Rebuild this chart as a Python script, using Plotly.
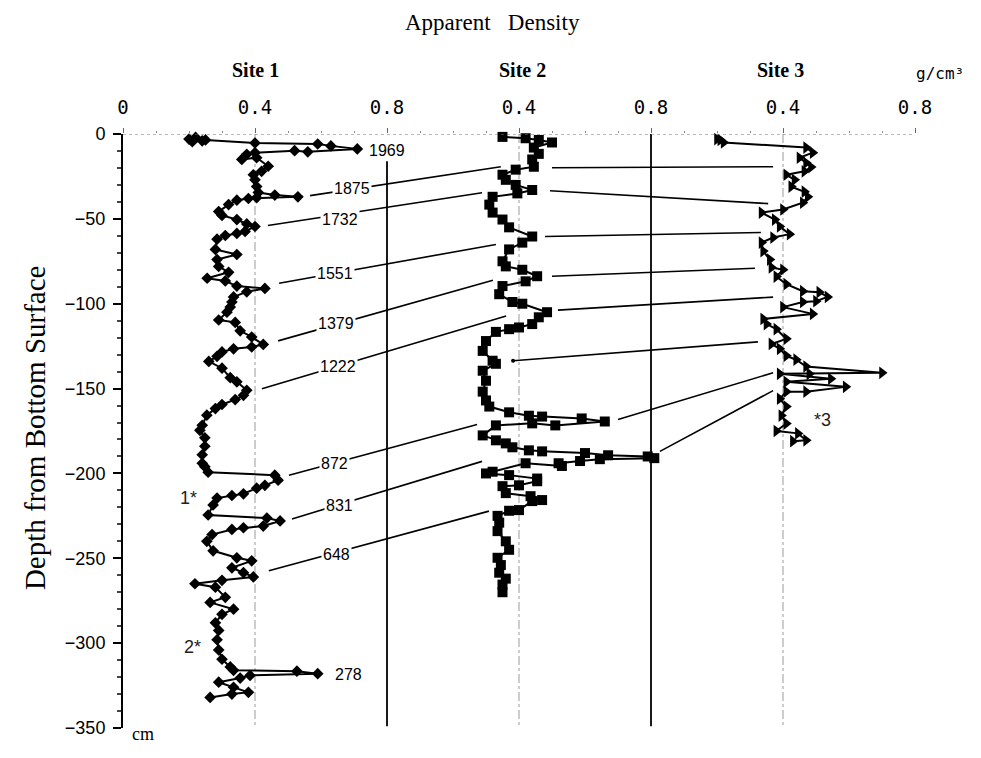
import plotly.graph_objects as go

# ---------------- data ----------------
site1_depth = [-2.0, -3.0, -4.0, -4.5, -3.5, -5.3, -5.9, -7.0, -8.8, -10.5, -9.8, -11.0, -12.0, -15.0, -14.0,
               -19.0, -22.0, -24.0, -27.0, -31.0, -34.5, -36.0, -37.0, -37.5, -38.0, -39.0, -41.6, -45.7, -48.0,
               -50.4, -53.0, -54.5, -57.4, -58.6, -59.8, -62.0, -68.0, -71.0, -74.0, -78.0, -81.5, -85.0, -86.6,
               -89.6, -91.0, -93.0, -96.0, -99.0, -102.0, -105.0, -109.6, -111.0, -116.0, -119.6, -124.0, -125.5,
               -126.6, -128.4, -131.0, -134.0, -138.0, -143.6, -146.0, -151.0, -154.0, -156.5, -159.4, -161.8,
               -165.7, -171.6, -174.6, -179.0, -184.0, -189.0, -194.0, -196.0, -199.3, -201.0, -204.0, -207.0,
               -208.7, -212.0, -213.0, -214.5, -218.6, -224.5, -226.3, -228.0, -231.0, -232.0, -233.0, -236.0,
               -240.0, -245.6, -249.7, -251.5, -255.6, -258.5, -261.0, -263.0, -265.0, -267.0, -273.0, -276.0,
               -280.0, -283.0, -288.0, -292.5, -298.0, -304.0, -309.5, -314.0, -316.0, -316.5, -318.0, -319.0,
               -320.6, -323.0, -326.0, -329.0, -330.0, -332.0]
site1_density = [0.22, 0.20, 0.24, 0.21, 0.25, 0.40, 0.59, 0.63, 0.71, 0.56, 0.52, 0.40, 0.375, 0.36, 0.405,
                 0.44, 0.42, 0.395, 0.40, 0.405, 0.41, 0.46, 0.53, 0.405, 0.38, 0.345, 0.32, 0.29, 0.30,
                 0.345, 0.375, 0.40, 0.37, 0.345, 0.31, 0.285, 0.28, 0.345, 0.285, 0.29, 0.32, 0.255, 0.31,
                 0.345, 0.43, 0.375, 0.335, 0.33, 0.325, 0.315, 0.29, 0.34, 0.355, 0.39, 0.425, 0.39,
                 0.335, 0.30, 0.285, 0.26, 0.30, 0.325, 0.345, 0.375, 0.365, 0.34, 0.30, 0.28,
                 0.254, 0.24, 0.233, 0.248, 0.248, 0.24, 0.24, 0.248, 0.258, 0.46, 0.47, 0.43,
                 0.405, 0.365, 0.33, 0.285, 0.273, 0.258, 0.436, 0.476, 0.425, 0.365, 0.33, 0.27,
                 0.254, 0.273, 0.345, 0.39, 0.33, 0.365, 0.395, 0.30, 0.218, 0.28, 0.31, 0.264,
                 0.335, 0.30, 0.28, 0.29, 0.285, 0.29, 0.30, 0.325, 0.335, 0.527, 0.59, 0.385,
                 0.355, 0.29, 0.335, 0.38, 0.33, 0.264]

site2_depth = [-1.7, -2.5, -3.5, -5.0, -8.0, -11.7, -15.0, -19.3, -21.0, -24.0, -27.0, -30.0, -33.0, -35.0,
               -37.0, -41.6, -46.3, -50.4, -55.0, -60.4, -64.0, -68.0, -75.0, -78.0, -80.0, -83.8, -86.8,
               -89.6, -94.4, -99.0, -100.0, -105.0, -108.0, -112.0, -114.0, -115.0, -116.6, -122.0, -127.8,
               -133.6, -135.4, -139.5, -145.4, -151.8, -157.0, -160.6, -164.0, -166.0, -166.5, -167.6, -169.4,
               -171.7, -170.5, -171.7, -177.6, -180.5, -182.3, -184.6, -186.4, -187.0, -188.0, -189.3, -190.0,
               -191.0, -191.6, -192.7, -194.0, -195.6, -194.0, -199.0, -200.0, -201.0, -203.0, -204.6, -207.0,
               -207.5, -211.6, -213.4, -215.7, -216.3, -221.6, -222.0, -225.0, -229.0, -234.0, -240.0, -245.0,
               -249.7, -254.0, -258.5, -262.0, -265.5, -270.0]
site2_density = [0.35, 0.42, 0.46, 0.50, 0.445, 0.46, 0.44, 0.445, 0.39, 0.35, 0.36, 0.39, 0.44, 0.395,
                 0.32, 0.31, 0.32, 0.35, 0.37, 0.44, 0.41, 0.37, 0.35, 0.36, 0.41, 0.455, 0.42,
                 0.35, 0.34, 0.38, 0.41, 0.485, 0.46, 0.44, 0.40, 0.37, 0.33, 0.30, 0.29,
                 0.32, 0.33, 0.29, 0.30, 0.29, 0.30, 0.31, 0.37, 0.43, 0.47, 0.59, 0.66,
                 0.51, 0.44, 0.33, 0.29, 0.33, 0.36, 0.38, 0.43, 0.47, 0.60, 0.67, 0.79,
                 0.81, 0.645, 0.585, 0.52, 0.53, 0.42, 0.32, 0.30, 0.37, 0.455, 0.455, 0.40,
                 0.35, 0.36, 0.435, 0.47, 0.44, 0.40, 0.37, 0.335, 0.34, 0.335, 0.36, 0.37,
                 0.335, 0.345, 0.34, 0.36, 0.35, 0.35]

site3_depth = [-3.0, -3.5, -5.0, -8.0, -11.0, -14.0, -17.0, -19.5, -22.0, -24.0, -27.0, -31.0, -34.0, -37.0,
               -40.5, -44.5, -46.3, -50.4, -54.5, -59.0, -61.0, -64.0, -69.0, -74.0, -78.6, -80.0, -84.0,
               -88.5, -92.6, -93.2, -96.0, -98.5, -99.0, -102.0, -106.0, -109.0, -112.0, -115.0, -120.7,
               -123.7, -126.6, -130.7, -133.0, -137.0, -140.7, -141.3, -141.3, -144.2, -146.0, -149.0,
               -151.8, -151.8, -156.0, -160.6, -165.9, -170.6, -175.0, -176.4, -180.5, -181.0]
site3_density = [0.20, 0.21, 0.22, 0.47, 0.49, 0.45, 0.47, 0.485, 0.465, 0.41, 0.435, 0.425, 0.465, 0.475,
                 0.46, 0.40, 0.335, 0.375, 0.39, 0.42, 0.37, 0.335, 0.34, 0.36, 0.365, 0.40, 0.38,
                 0.41, 0.46, 0.51, 0.535, 0.50, 0.46, 0.40, 0.49, 0.34, 0.35, 0.38, 0.41,
                 0.365, 0.39, 0.41, 0.44, 0.47, 0.70, 0.48, 0.39, 0.545, 0.41, 0.59,
                 0.47, 0.41, 0.39, 0.41, 0.395, 0.41, 0.38, 0.445, 0.47, 0.43]

# horizontal offset of each site's density scale on the shared axis
site_offsets = [0.0, 0.8, 1.6]
site_names = ["Site 1", "Site 2", "Site 3"]

# top axis ticks
top_tickvals = [0.0, 0.4, 0.8, 1.2, 1.6, 2.0, 2.4]
top_ticktext = ["0", "0.4", "0.8", "0.4", "0.8", "0.4", "0.8"]

# correlation lines Site 1 -> Site 2 (year labels), shared-axis coordinates
years = ["1875", "1732", "1551", "1379", "1222", "872", "831", "648"]
c12_x0 = [0.567, 0.439, 0.473, 0.470, 0.421, 0.503, 0.512, 0.442]
c12_y0 = [-36.3, -53.9, -87.9, -121.9, -150.1, -201.1, -226.8, -257.3]
c12_x1 = [1.145, 1.088, 1.130, 1.121, 1.161, 1.073, 1.088, 1.109]
c12_y1 = [-19.3, -34.6, -65.1, -86.2, -107.3, -171.2, -192.9, -222.2]
year_lx = [0.694, 0.658, 0.642, 0.645, 0.652, 0.642, 0.655, 0.648]
year_ly = [-32.2, -50.4, -82.1, -111.4, -137.2, -194.0, -218.6, -248.0]
extra_years = ["1969", "278"]
extra_lx = [0.80, 0.682]
extra_ly = [-10.0, -318.3]

# correlation lines Site 2 -> Site 3
c23_x0 = [1.300, 1.294, 1.279, 1.300, 1.318, 1.182, 1.500, 1.627]
c23_y0 = [-19.9, -33.4, -60.4, -83.8, -103.8, -133.6, -168.2, -187.0]
c23_x1 = [1.970, 1.955, 1.933, 1.915, 1.970, 1.924, 1.970, 1.970]
c23_y1 = [-19.3, -41.0, -58.0, -79.1, -96.1, -122.5, -140.7, -151.2]

# reference verticals
dash_x = [0.4, 1.2, 2.0]
solid_x = [0.8, 1.6]
solid_top = [-16.0, 0.0]

marks = ["1*", "2*", "*3"]
marks_x = [0.197, 0.212, 2.121]
marks_y = [-214.5, -302.3, -168.8]

assert len(site1_depth) == len(site1_density)
assert len(site2_depth) == len(site2_density)
assert len(site3_depth) == len(site3_density)

fig = go.Figure()

# reference lines
for xv in dash_x:
    fig.add_trace(go.Scatter(x=[xv, xv], y=[0, -350], mode="lines",
                             line=dict(color="#9a9a9a", width=1, dash="dashdot"),
                             hoverinfo="skip", showlegend=False))
for xv, yt in zip(solid_x, solid_top):
    fig.add_trace(go.Scatter(x=[xv, xv], y=[yt, -349], mode="lines",
                             line=dict(color="black", width=1.8),
                             hoverinfo="skip", showlegend=False))

# correlation lines
def seg(x0, y0, x1, y1):
    xs, ys = [], []
    for a, b, c, d in zip(x0, y0, x1, y1):
        xs += [a, c, None]
        ys += [b, d, None]
    return xs, ys

for lx, ly in (seg(c12_x0, c12_y0, c12_x1, c12_y1), seg(c23_x0, c23_y0, c23_x1, c23_y1)):
    fig.add_trace(go.Scatter(x=lx, y=ly, mode="lines", line=dict(color="black", width=1.6),
                             hoverinfo="skip", showlegend=False))
fig.add_trace(go.Scatter(x=[c23_x0[5]], y=[c23_y0[5]], mode="markers",
                         marker=dict(color="black", size=4), showlegend=False, hoverinfo="skip"))

# site profiles
symbols = ["diamond", "square", "triangle-right"]
sizes = [9, 10, 11]
for depth, dens, off, sym, sz, nm in zip(
        [site1_depth, site2_depth, site3_depth],
        [site1_density, site2_density, site3_density],
        site_offsets, symbols, sizes, site_names):
    fig.add_trace(go.Scatter(
        x=[v + off for v in dens], y=depth, mode="lines+markers", name=nm,
        line=dict(color="black", width=2),
        marker=dict(symbol=sym, size=sz, color="black", line=dict(width=0)),
        cliponaxis=False, showlegend=False))

# top dotted axis line
fig.add_shape(type="line", x0=0, x1=2.4, y0=0, y1=0, xref="x", yref="y",
              line=dict(color="#777777", width=1, dash="dot"))

annotations = []
for t, x, y in zip(years + extra_years, year_lx + extra_lx, year_ly + extra_ly):
    annotations.append(dict(x=x, y=y, xref="x", yref="y", text=t, showarrow=False,
                            xanchor="center", yanchor="middle",
                            font=dict(family="Liberation Sans", size=16, color="black"),
                            bgcolor="white", borderpad=1))
for t, x, y in zip(marks, marks_x, marks_y):
    annotations.append(dict(x=x, y=y, xref="x", yref="y", text=t, showarrow=False,
                            xanchor="center", yanchor="middle",
                            font=dict(family="Liberation Sans", size=18, color="#222")))

# paper positions: x=(px-123)/792, y=(731-py)/597  (page has 8px body margin)
def pa(x, y, text, font, **kw):
    d = dict(x=x, y=y, xref="paper", yref="paper", text=text, showarrow=False,
             xanchor="center", yanchor="middle", font=font)
    d.update(kw)
    return d

annotations += [
    pa(0.466, 1.187, "Apparent&nbsp;&nbsp;&nbsp;Density",
       dict(family="Liberation Serif", size=23, color="black")),
    pa(0.167, 1.107, "<b>Site 1</b>", dict(family="Liberation Serif", size=20, color="black")),
    pa(0.504, 1.107, "<b>Site 2</b>", dict(family="Liberation Serif", size=20, color="black")),
    pa(0.830, 1.107, "<b>Site 3</b>", dict(family="Liberation Serif", size=20, color="black")),
    pa(1.032, 1.102, "g/cm³", dict(family="DejaVu Sans Mono", size=16, color="black")),
    pa(0.025, -0.010, "cm", dict(family="Liberation Serif", size=18, color="black")),
    pa(-0.111, 0.505, "Depth from Bottom Surface",
       dict(family="Liberation Serif", size=29, color="black"), textangle=-90),
]

fig.update_layout(
    width=965, height=742,
    margin=dict(l=115, r=58, t=126, b=19),
    paper_bgcolor="white", plot_bgcolor="white",
    annotations=annotations,
    showlegend=False,
    xaxis=dict(range=[0, 2.4], side="top", showgrid=False, zeroline=False, showline=False,
               tickvals=top_tickvals, ticktext=top_ticktext,
               ticks="outside", ticklen=5, tickcolor="#666", tickwidth=1,
               minor=dict(dtick=0.1, ticks="outside", ticklen=2, tickcolor="#888"),
               ticklabelstandoff=6,
               tickfont=dict(family="DejaVu Sans Mono", size=19, color="black")),
    yaxis=dict(range=[-350, 0], showgrid=False, zeroline=False, showline=True,
               linecolor="black", linewidth=2, dtick=50, tick0=0,
               ticks="outside", ticklen=8, tickwidth=1.5, tickcolor="black",
               minor=dict(dtick=10, ticks="outside", ticklen=4, tickcolor="#444"),
               ticklabelstandoff=4,
               tickfont=dict(family="Liberation Sans", size=18, color="black")),
)

fig.write_html("out.html")
